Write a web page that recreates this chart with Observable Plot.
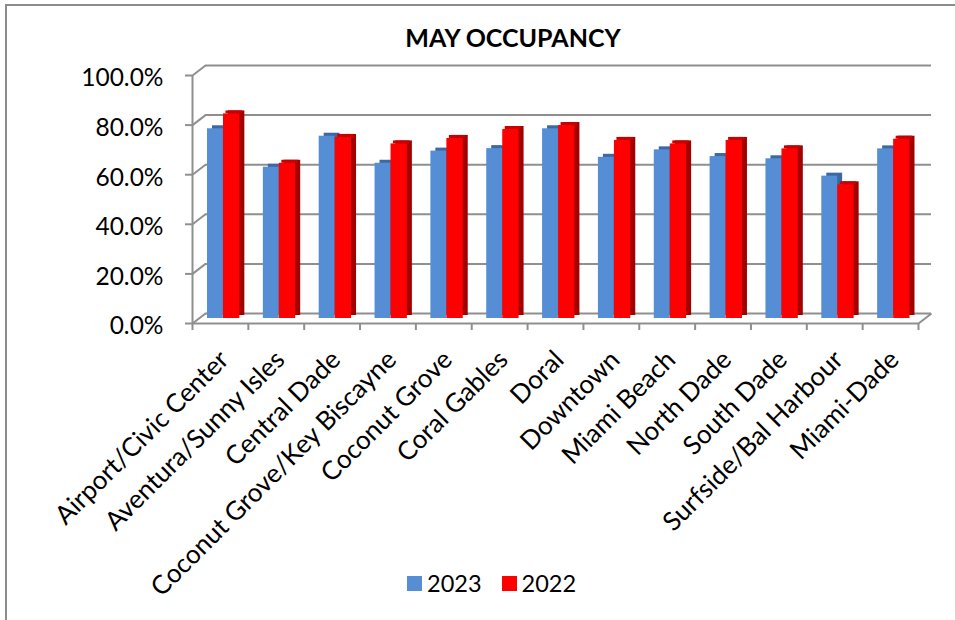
<!DOCTYPE html>
<html>
<head>
<meta charset="utf-8">
<script src="https://cdn.jsdelivr.net/npm/d3@7"></script>
<script src="https://cdn.jsdelivr.net/npm/@observablehq/plot@0.6"></script>
<style>
  html, body { margin: 0; padding: 0; background: #fff; }
  #page { position: relative; width: 955px; height: 620px; overflow: hidden; font-family: Lato, "Open Sans", sans-serif; color: #000; }
  #frame { position: absolute; left: 5px; top: 4px; width: 960px; height: 640px; border-top: 2px solid #8c8c8c; border-left: 2px solid #8c8c8c; }
  #title { position: absolute; left: 0; width: 1026px; top: 22px; text-align: center; font-weight: bold; font-size: 25px; line-height: 30px; }
  #chart { position: absolute; left: 0; top: 0; }
  #legend { position: absolute; top: 569px; left: 407px; font-size: 23.5px; line-height: 28px; display: flex; align-items: center; }
  .sw { display: inline-block; width: 15px; height: 15px; margin-right: 5px; }
  .item { display: flex; align-items: center; margin-right: 20px; }
</style>
</head>
<body>
<div id="page">
  <div id="frame"></div>
  <div id="chart"></div>
  <div id="title">MAY OCCUPANCY</div>
  <div id="legend"></div>
</div>
<script>
const categories = ["Airport/Civic Center", "Aventura/Sunny Isles", "Central Dade", "Coconut Grove/Key Biscayne", "Coconut Grove", "Coral Gables", "Doral", "Downtown", "Miami Beach", "North Dade", "South Dade", "Surfside/Bal Harbour", "Miami-Dade"];
const values2023 = [76.5, 61.0, 73.5, 62.6, 67.5, 68.5, 76.5, 65.0, 68.0, 65.3, 64.4, 57.4, 68.4];
const values2022 = [82.5, 62.6, 73.0, 70.4, 72.6, 76.2, 77.8, 71.8, 70.4, 71.8, 68.4, 53.9, 72.3];
const yTicks = [0, 20, 40, 60, 80, 100];
const seriesNames = ["2023", "2022"];
const seriesColors = ["#558ed5", "#ff0000"];

const W = 955, H = 560;
const mL = 192, mR = 37, mT = 75, mB = H - 323;
const n = categories.length;
const pxPerCat = (W - mL - mR) / n;
const pxPerPct = (H - mT - mB) / 100;
// depth of the 3D box in pixels
const depthX = 13, depthY = 10;
const DX = depthX / pxPerCat, DY = depthY / pxPerPct;

const rows = categories.map((c, i) => ({cat: c, i, v23: values2023[i], v22: values2022[i]}));
const grid = "#8f8f8f";

const chart = Plot.plot({
  width: W, height: H,
  marginLeft: mL, marginRight: mR, marginTop: mT, marginBottom: mB,
  x: {type: "linear", domain: [0, n], axis: null},
  y: {domain: [0, 100], axis: null},
  style: {fontFamily: "Lato, 'Open Sans', sans-serif", color: "#000", background: "transparent", overflow: "visible"},
  marks: [
    // back wall gridlines
    Plot.ruleY(yTicks, {stroke: grid, strokeWidth: 2, dx: depthX, dy: -depthY}),
    // side wall connectors
    Plot.link(yTicks, {x1: 0, y1: d => d, x2: DX, y2: d => d + DY, stroke: grid, strokeWidth: 2}),
    // floor front edge and right edge
    Plot.ruleY([0], {stroke: grid, strokeWidth: 2}),
    Plot.link([0], {x1: n, y1: 0, x2: n + DX, y2: DY, stroke: grid, strokeWidth: 2}),
    // front vertical axis line
    Plot.ruleX([0], {y1: 0, y2: 100, stroke: grid, strokeWidth: 2}),
    // y ticks and labels
    Plot.axisY(yTicks, {tickSize: 7, tickFormat: () => "", stroke: grid, strokeWidth: 2}),
    Plot.axisY(yTicks, {tickSize: 0, tickPadding: 29, tickFormat: d => d.toFixed(1) + "%", fontSize: 24.5, dy: 3}),
    // x ticks
    Plot.axisX(d3.range(n + 1), {tickSize: 7, tickFormat: () => "", stroke: grid, strokeWidth: 2}),
    // 2023 bars: depth layer, front face
    Plot.rectY(rows, {x1: d => d.i, x2: d => d.i + 1, y1: 0, y2: "v23", insetLeft: 15, insetRight: 25, dx: 5, dy: -8, fill: "#3c68a3"}),
    Plot.rectY(rows, {x1: d => d.i, x2: d => d.i + 1, y1: 0, y2: "v23", insetLeft: 15, insetRight: 25, dy: -5, fill: seriesColors[0]}),
    // 2022 bars: side, cap, front face
    Plot.rectY(rows, {x1: d => d.i, x2: d => d.i + 1, y1: 0, y2: "v22", insetLeft: 31, insetRight: 8.5, dx: 5, dy: -8, fill: "#a30000"}),
    Plot.rectY(rows, {x1: d => d.i, x2: d => d.i + 1, y1: "v22", y2: "v22", insetLeft: 31, insetRight: 8.5, insetTop: -3, dx: 2.5, dy: -5, fill: "#c80000"}),
    Plot.rectY(rows, {x1: d => d.i, x2: d => d.i + 1, y1: 0, y2: "v22", insetLeft: 31, insetRight: 8.5, dy: -5, fill: seriesColors[1]}),
    // category labels
    Plot.text(rows, {x: d => d.i + 0.5, y: 0, text: "cat", rotate: -45, textAnchor: "end", fontSize: 26, dx: 4, dy: 32, fill: "#000"})
  ]
});
document.getElementById("chart").appendChild(chart);

const legend = document.getElementById("legend");
seriesNames.forEach((s, k) => {
  const it = document.createElement("span");
  it.className = "item";
  const sw = document.createElement("span");
  sw.className = "sw";
  sw.style.background = seriesColors[k];
  it.appendChild(sw);
  it.appendChild(document.createTextNode(s));
  legend.appendChild(it);
});
</script>
</body>
</html>
